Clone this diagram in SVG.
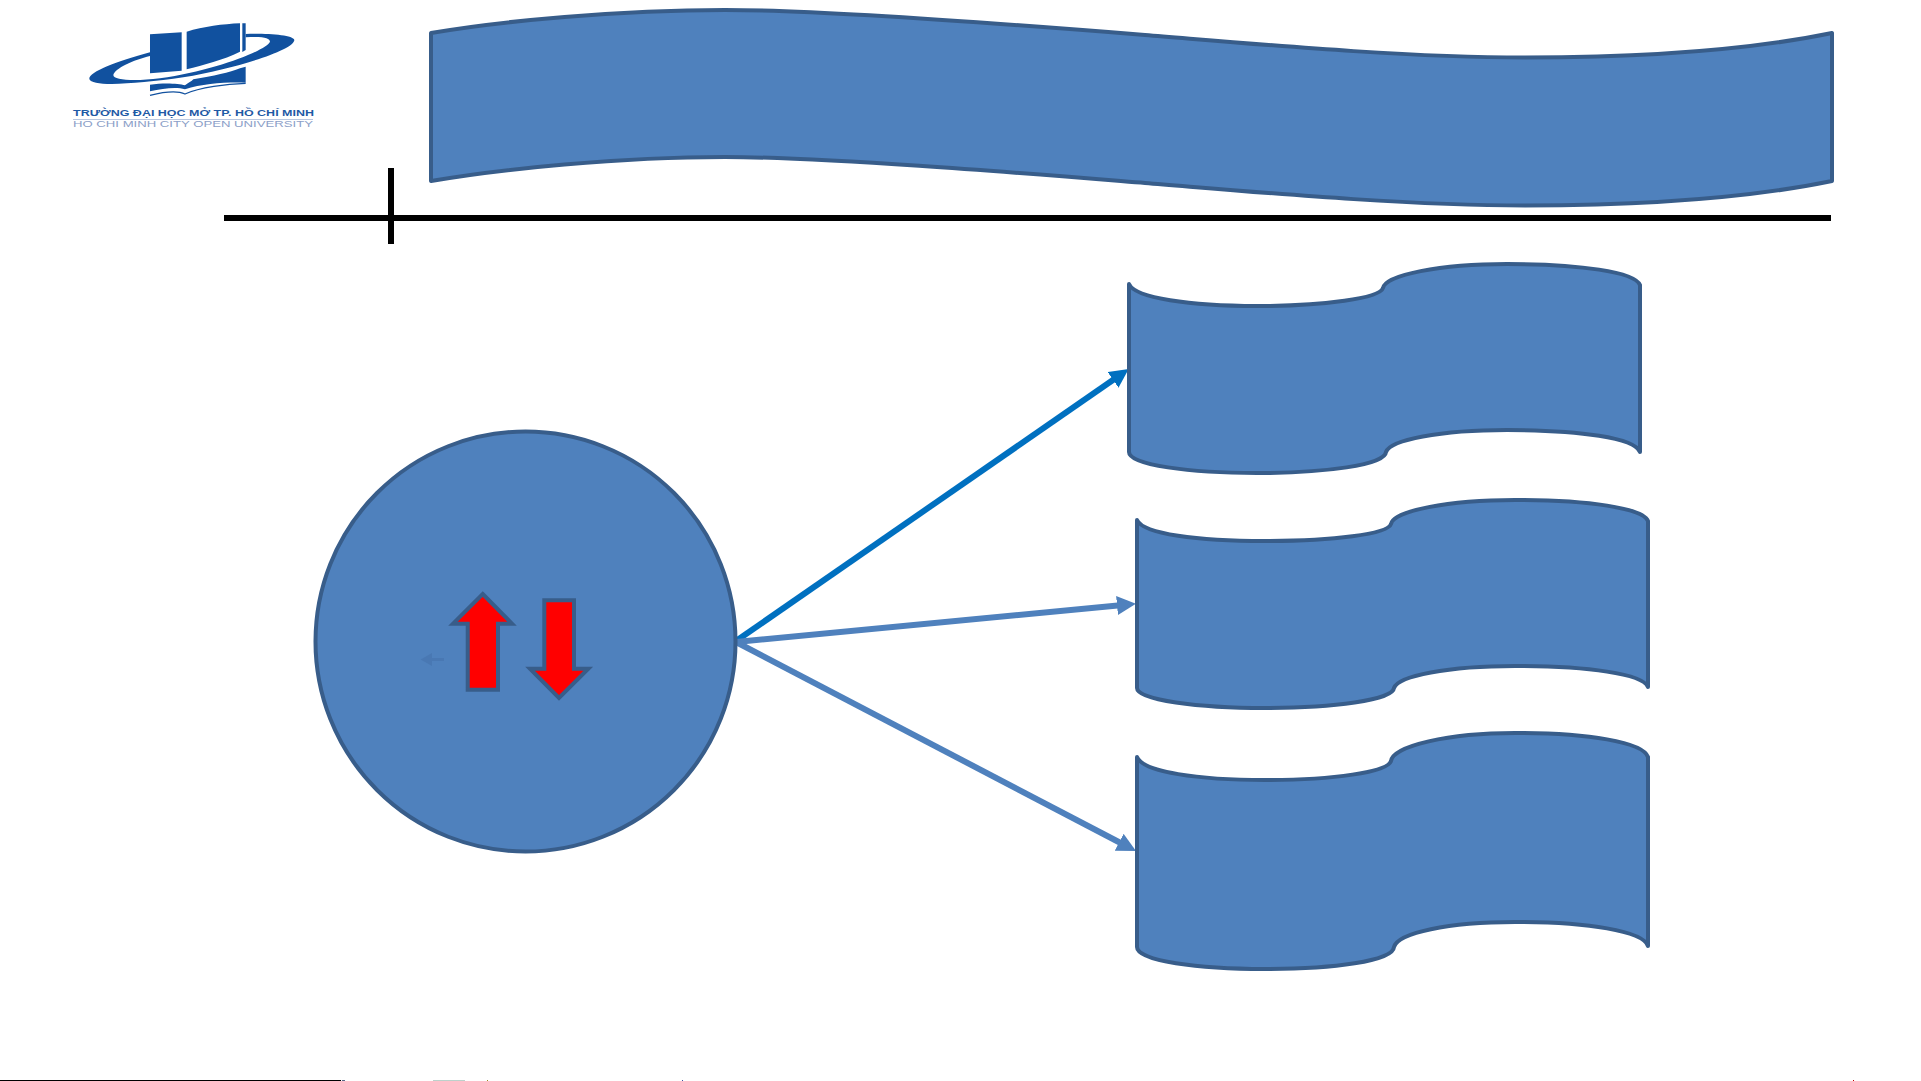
<svg xmlns="http://www.w3.org/2000/svg" width="1921" height="1081" viewBox="0 0 1921 1081">
<style>
.shape{fill:#4F81BD;stroke:#385D8A;stroke-width:4;stroke-linejoin:round}
.red{fill:#FF0000;stroke:#385D8A;stroke-width:4;stroke-linejoin:miter}
.rule{stroke:#000;stroke-width:6;fill:none}
.link{fill:none;stroke-width:6}
.logo{fill:#11519F}
.t1{font-family:"Liberation Sans",Arial,sans-serif;font-weight:700;font-size:9px;fill:#1F5AA5}
.t2{font-family:"Liberation Sans",Arial,sans-serif;font-size:8.4px;fill:#8CA0C8}
</style>
<defs>
<marker id="headA" markerUnits="userSpaceOnUse" markerWidth="20" markerHeight="20" refX="6" refY="10" orient="auto"><path d="M0 0.5L19 10L0 19.5Z" fill="#0070C0"/></marker>
<marker id="headB" markerUnits="userSpaceOnUse" markerWidth="20" markerHeight="20" refX="6" refY="10" orient="auto"><path d="M0 0.5L19 10L0 19.5Z" fill="#4F81BD"/></marker>
</defs>
<rect width="1921" height="1081" fill="#fff"/>
<g id="logo">
<g transform="translate(50 0) scale(.33333)">
<path class="logo" d="M300 157C200 185 118 215 118 237C125 262 260 252 400 232C560 205 733 150 733 120C730 105 650 100 587 102L587 112C640 108 660 115 660 125C650 150 500 210 330 235C250 245 190 240 190 225C195 205 250 180 300 168Z"/>
<path class="logo" d="M300 103L395 97L395 212L300 220Z"/>
<path class="logo" d="M410 95C460 80 520 72 570 70L570 155C520 180 460 195 410 208Z"/>
<path class="logo" d="M577 70L587 70L587 150L577 156Z"/>
<path class="logo" d="M430 238C490 228 540 218 570 205L587 200L587 248C530 246 460 250 405 268C380 260 340 265 300 274L300 254C340 248 385 250 405 256C415 248 425 244 430 238Z"/>
<path d="M300 286C340 276 380 270 405 282C450 262 530 252 587 250" fill="none" stroke="#11519F" stroke-width="4"/>
</g>
<text class="t1" x="73" y="116" textLength="241" lengthAdjust="spacingAndGlyphs">TRƯỜNG ĐẠI HỌC MỞ TP. HỒ CHÍ MINH</text>
<rect x="73" y="119" width="240" height="1" fill="#B9C7E0"/>
<text class="t2" x="73" y="126.5" textLength="240" lengthAdjust="spacingAndGlyphs">HO CHI MINH CITY OPEN UNIVERSITY</text>
</g>
<g id="title-banner">
<path class="shape" d="M431 33C500 21 620 10 725 10C830 10 1045 27 1145 35C1245 43 1400 57.5 1525 57.5C1630 57.5 1740 52 1832 33L1832 181C1740 200 1630 205.5 1525 205.5C1400 205.5 1245 191 1145 183C1045 175 830 157 725 157C620 157 500 169 431 181Z"/>
</g>
<g id="rules">
<path class="rule" d="M224 218H1831"/>
<path class="rule" d="M391 168V244"/>
</g>
<g id="connectors">
<path class="link" stroke="#0070C0" d="M736 641L1118 376.5" marker-end="url(#headA)"/>
<path class="link" stroke="#4F81BD" d="M736 642L1123 605" marker-end="url(#headB)"/>
<path class="link" stroke="#4F81BD" d="M736 642L1124.5 845" marker-end="url(#headB)"/>
</g>
<g id="circle-node">
<circle class="shape" cx="525.5" cy="641.5" r="210"/>
<path d="M420.7 659.5L432 653V658H444V661H432V666Z" fill="#4978B3"/>
</g>
<g id="arrow-up"><path class="red" d="M482.7 594L512 623.7H498V689.7H467.7V623.7H453Z"/></g>
<g id="arrow-down"><path class="red" d="M544.3 600.3H574V668.7H588.3L559 698L530 668.7H544.3Z"/></g>
<g id="scroll-1">
<path class="shape" d="M1129 284C1135 298 1190 306 1257 306C1325 306 1380 298 1383 288C1385 275 1440 264 1507 264C1580 264 1635 272 1640 285L1640 452C1635 438 1580 430 1507 430C1440 430 1390 440 1386 452C1385 465 1325 473 1257 473C1190 473 1129 465 1129 452Z"/>
</g>
<g id="scroll-2">
<path class="shape" d="M1137 520C1143 534 1198 541 1265 541C1333 541 1388 534 1391 524C1393 511 1448 500 1515 500C1588 500 1643 508 1648 521L1648 687C1643 674 1588 666 1515 666C1448 666 1398 676 1394 688C1393 700 1333 708 1265 708C1198 708 1137 700 1137 688Z"/>
</g>
<g id="scroll-3">
<path class="shape" d="M1137 757C1143 772 1198 780 1265 780C1333 780 1388 772 1391 761C1393 746 1448 733 1515 733C1588 733 1643 742 1648 757L1648 946C1643 931 1588 922 1515 922C1448 922 1398 933 1394 947C1393 961 1333 969 1265 969C1198 969 1137 961 1137 947Z"/>
</g>
<g id="page-edge">
<rect x="0" y="1080" width="341" height="1" fill="#000"/>
<rect x="342" y="1080" width="3" height="1" fill="#5a6a8a"/>
<rect x="433" y="1080" width="32" height="1" fill="#8fb3a8" opacity=".6"/>
<rect x="487" y="1080" width="1" height="1" fill="#a08a20"/>
<rect x="682" y="1080" width="1" height="1" fill="#4050a0"/>
<rect x="1853" y="1080" width="1" height="1" fill="#c00000"/>
</g>
</svg>
